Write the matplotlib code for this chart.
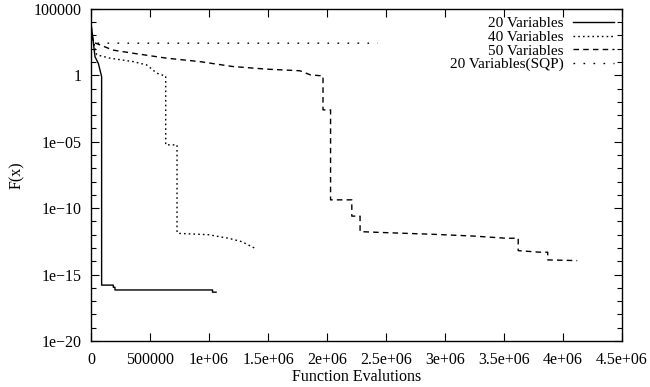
import matplotlib
matplotlib.use("Agg")
import matplotlib.pyplot as plt
from matplotlib.ticker import FixedLocator, LogLocator, NullFormatter

plt.rcParams["font.family"] = ["Liberation Serif", "DejaVu Serif"]
plt.rcParams["font.size"] = 11.5

# 20 Variables
evals_20 = [0, 14000, 34000, 62000, 90000, 90000, 189000, 189000, 203000, 203000,
            1030000, 1030000, 1060000]
f_20 = [8300, 800, 25, 8, 0.8, 1.6e-16, 1.6e-16, 1.1e-16, 1.1e-16, 6.9e-17,
        6.9e-17, 4.7e-17, 4.7e-17]

# 40 Variables
evals_40 = [0, 48000, 161000, 358000, 472000, 557000, 627000, 633000, 633000,
            729000, 729000, 740000, 994000, 1164000, 1277000, 1390000]
f_40 = [2500, 35, 19.5, 10.7, 6.0, 1.45, 0.9, 0.9, 5.8e-6,
        5.8e-6, 1.45e-12, 1.26e-12, 1.0e-12, 5.4e-13, 3.0e-13, 9.5e-14]

# 50 Variables
evals_50 = [0, 17000, 186000, 356000, 641000, 924000, 1200000, 1490000, 1770000,
            1860000, 1960000, 1966000, 1966000, 2030000, 2030000, 2210000, 2210000,
            2280000, 2280000, 2475000, 2900000, 3240000, 3520000, 3620000, 3620000,
            3805000, 3870000, 3870000, 4120000]
f_50 = [6300, 316, 79, 46, 19.5, 10.7, 4.6, 2.9, 2.2,
        1.07, 0.91, 0.91, 2.5e-3, 2.5e-3, 4.2e-10, 4.2e-10, 2.5e-11,
        2.5e-11, 1.7e-12, 1.45e-12, 1.07e-12, 7.9e-13, 5.4e-13, 5.4e-13, 6.3e-14,
        4.8e-14, 4.8e-14, 1.26e-14, 1.12e-14]

# 20 Variables (SQP)
evals_sqp = [0, 20000, 2430000]
f_sqp = [4000, 263, 263]

xticks = [0, 500000, 1000000, 1500000, 2000000, 2500000, 3000000, 3500000, 4000000, 4500000]
xticklabels = ["0", "500000", "1e+06", "1.5e+06", "2e+06", "2.5e+06", "3e+06",
               "3.5e+06", "4e+06", "4.5e+06"]
yticks = [1e-20, 1e-15, 1e-10, 1e-05, 1, 100000]
yticklabels = ["1e\u221220", "1e\u221215", "1e\u221210", "1e\u221205", "1", "100000"]

fig = plt.figure(figsize=(6.5, 3.87), dpi=100)
ax = fig.add_axes([0.14, 0.119, 0.817, 0.858])

ax.plot(evals_20, f_20, color="black", lw=1.0, label="20 Variables")
ax.plot(evals_40, f_40, color="black", lw=1.0, linestyle=(0, (1.2, 2.2)), label="40 Variables")
ax.plot(evals_50, f_50, color="black", lw=1.0, linestyle=(0, (4, 3)), label="50 Variables")
ax.plot(evals_sqp, f_sqp, color="black", lw=1.0, linestyle=(0, (1.2, 6)), label="20 Variables(SQP)")

ax.set_yscale("log")
ax.set_xlim(0, 4500000)
ax.set_ylim(1e-20, 1e5)

ax.set_xticks(xticks)
ax.set_xticklabels(xticklabels)
ax.yaxis.set_major_locator(FixedLocator(yticks))
ax.set_yticklabels(yticklabels)
ax.yaxis.set_minor_locator(LogLocator(base=10, subs=[1.0], numticks=40))
ax.yaxis.set_minor_formatter(NullFormatter())

ax.tick_params(which="both", direction="in", top=True, right=True, labelsize=11.5)
ax.tick_params(which="major", length=6, width=0.8)
ax.tick_params(which="minor", length=3.5, width=0.8)
ax.tick_params(axis="x", pad=8)
ax.tick_params(axis="y", pad=7)
for s in ax.spines.values():
    s.set_linewidth(1.0)

ax.set_xlabel("Function Evalutions", fontsize=11.5, labelpad=1)
ax.set_ylabel("F(x)", fontsize=11.5, labelpad=6)

ax.legend(loc="upper right", frameon=False, markerfirst=False, fontsize=11,
          handlelength=2.7, handletextpad=0.6, labelspacing=0.0,
          borderaxespad=0.3, borderpad=0.2)

fig.savefig("out.png", dpi=100)
